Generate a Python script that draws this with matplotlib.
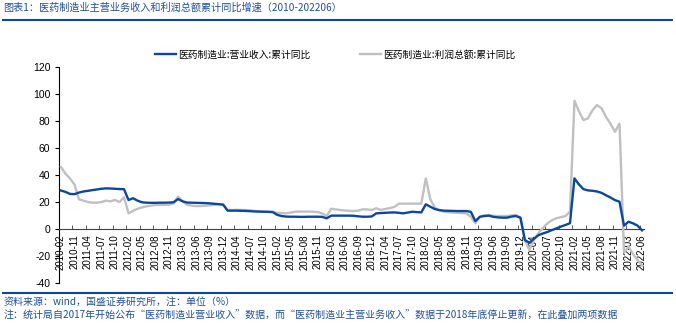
import numpy as np
import matplotlib.pyplot as plt
from matplotlib.lines import Line2D
from matplotlib.patches import Rectangle

plt.rcParams['axes.unicode_minus'] = False

# months on the category axis (no January figures are published)
months_by_year = {
    2010: [2, 5, 8, 11],
    2011: [2, 3, 4, 5, 6, 7, 8, 9, 10, 11, 12],
}
for yr in range(2012, 2022):
    months_by_year[yr] = [2, 3, 4, 5, 6, 7, 8, 9, 10, 11, 12]
months_by_year[2022] = [2, 3, 4, 5, 6]
categories = ['%d-%02d' % (yr, m) for yr in months_by_year for m in months_by_year[yr]]

# 医药制造业:营业收入:累计同比 (%)
revenue = [
    28.5, 27.5, 26.0, 25.8, 27.0, 27.8, 28.3, 28.8, 29.3, 29.8,
    30.1, 30.0, 29.8, 29.6, 29.5, 21.5, 22.8, 21.0, 19.8, 19.5,
    19.4, 19.4, 19.5, 19.5, 19.6, 19.8, 22.2, 20.5, 19.6, 19.5,
    19.4, 19.3, 19.2, 19.0, 18.7, 18.4, 18.0, 13.6, 13.6, 13.6,
    13.5, 13.4, 13.2, 13.0, 12.9, 12.8, 12.7, 12.6, 10.5, 9.6,
    9.2, 9.1, 9.1, 9.0, 9.0, 9.1, 9.1, 9.1, 9.0, 7.9,
    9.9, 9.9, 9.9, 9.9, 9.9, 9.8, 9.4, 9.1, 9.1, 9.3,
    11.6, 11.8, 12.0, 12.2, 12.3, 12.0, 11.6, 12.2, 12.8, 12.5,
    12.3, 18.3, 16.5, 14.8, 14.0, 13.6, 13.5, 13.4, 13.3, 13.3,
    13.3, 12.7, 5.9, 9.1, 9.6, 9.9, 9.0, 8.6, 8.4, 8.4,
    9.2, 9.6, 8.4, -8.2, -10.2, -7.2, -4.6, -3.3, -2.2, -0.8,
    0.5, 1.8, 3.0, 4.3, 37.5, 33.0, 29.5, 28.6, 28.3, 27.8,
    26.8, 25.0, 23.3, 21.4, 20.2, 2.5, 5.4, 4.2, 2.5, -1.0,
]

# 医药制造业:利润总额:累计同比 (%)
profit = [
    46.0, 41.0, 37.5, 33.0, 22.0, 21.0, 20.0, 19.5, 19.5, 20.0,
    21.0, 20.5, 21.5, 20.0, 23.5, 11.6, 13.5, 15.0, 16.0, 16.8,
    17.3, 17.8, 17.8, 17.8, 18.0, 19.0, 24.0, 20.5, 18.0, 17.3,
    17.0, 17.0, 17.2, 17.5, 17.8, 18.5, 18.5, 14.1, 14.1, 14.2,
    14.1, 14.0, 13.8, 13.4, 13.1, 12.9, 12.8, 12.5, 12.0, 11.8,
    11.6, 12.2, 12.8, 12.9, 12.9, 12.9, 12.8, 12.6, 11.5, 9.6,
    15.0, 14.5, 14.1, 13.7, 13.5, 13.3, 13.6, 14.6, 14.5, 14.1,
    15.3, 14.2, 14.8, 15.5, 16.3, 18.8, 18.8, 18.8, 18.8, 18.8,
    18.8, 37.5, 22.0, 16.0, 13.8, 12.8, 12.3, 12.2, 12.0, 11.8,
    11.5, 9.1, 4.2, 9.0, 10.2, 10.4, 9.8, 9.6, 9.6, 9.7,
    10.0, 10.4, 8.4, -8.5, -15.6, -8.0, -3.0, 0.8, 4.2, 6.5,
    8.0, 8.8, 9.6, 12.8, 95.0, 87.0, 80.7, 82.0, 88.0, 91.8,
    89.5, 83.0, 78.0, 72.0, 78.0, -17.5, -13.0, -18.5, -23.0, -27.0,
]

title = '图表1：医药制造业主营业务收入和利润总额累计同比增速（2010-202206）'
source = '资料来源：wind，国盛证券研究所，注：单位（%）'
note = ('注：统计局自2017年开始公布“医药制造业营业收入”数据，而“医药制造业主营业务收入”'
        '数据于2018年底停止更新，在此叠加两项数据')

cjk = ['Noto Sans CJK SC', 'DejaVu Sans']
navy = '#0b47a0'
text_blue = '#1f4f9f'

fig = plt.figure(figsize=(6.76, 3.24), dpi=100)
ax = fig.add_axes([0.0868, 0.1265, 0.8663, 0.6667])

# lines sit above the axis labels, like the usual spreadsheet chart
x = np.arange(len(categories))
ax.plot(x, revenue, color=navy, lw=1.7, label='医药制造业:营业收入:累计同比', zorder=4)
ax.plot(x, profit, color='#c0c0c0', lw=1.7, label='医药制造业:利润总额:累计同比', zorder=3)

ax.set_xlim(-0.5, len(categories) - 0.5)
ax.set_ylim(-40, 120)
ax.set_yticks(range(-40, 121, 20))

ax.spines['top'].set_visible(False)
ax.spines['right'].set_visible(False)
ax.spines['bottom'].set_position(('data', 0))
ax.spines['left'].set_color('black')
ax.spines['bottom'].set_color('#404040')

# labels every 3rd month, tick marks on the boundaries between them
ax.set_xticks(x[::3])
ax.set_xticklabels(categories[::3], rotation=90, fontsize=7, family='Liberation Sans')
ax.tick_params(axis='x', which='major', length=0, pad=4)
ax.set_xticks(np.arange(2.5, len(categories), 3), minor=True)
ax.tick_params(axis='x', which='minor', direction='in', length=3, color='#404040')
ax.tick_params(axis='y', direction='out', length=3, labelsize=7.5, pad=3)
for lab in ax.get_yticklabels():
    lab.set_family('Liberation Sans')

leg = ax.legend(loc='center', bbox_to_anchor=(0.472, 1.057), ncol=2, frameon=False,
                prop={'family': cjk, 'size': 7}, handlelength=2.2, handletextpad=0.2,
                columnspacing=5.1)

# header and footer
fig.patches.append(Rectangle((0, 0), 1, 0.111, transform=fig.transFigure,
                             facecolor='white', edgecolor='none', zorder=5))
fig.text(0.005, 0.975, title, family=cjk, fontsize=7.3, color=text_blue, va='center')
fig.lines.append(Line2D([0.004, 0.994], [0.938, 0.938], transform=fig.transFigure,
                        color=navy, lw=1.5))
fig.lines.append(Line2D([0.004, 0.994], [0.0957, 0.0957], transform=fig.transFigure,
                        color=navy, lw=1.5, zorder=6))
fig.text(0.005, 0.068, source, family=cjk, fontsize=7.2, color=text_blue, va='center', zorder=6)
fig.text(0.005, 0.025, note, family=cjk, fontsize=7.2, color=text_blue, va='center', zorder=6)

fig.savefig('out.png', dpi=100)
